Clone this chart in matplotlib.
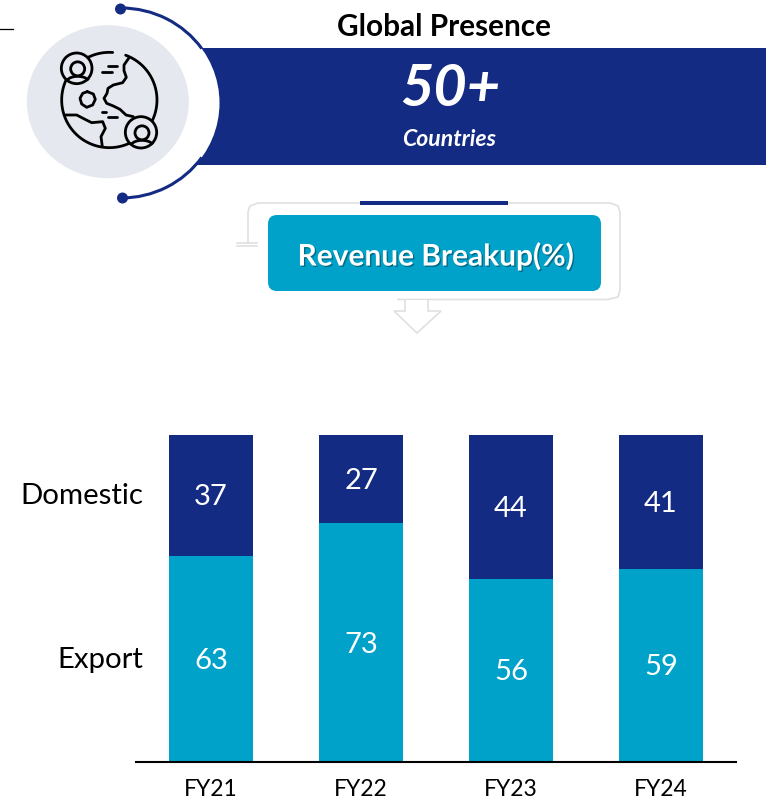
import numpy as np
import matplotlib
matplotlib.use("Agg")
import matplotlib.pyplot as plt
import matplotlib.patheffects as pe
from matplotlib.patches import Circle, Ellipse, Rectangle, FancyBboxPatch, Arc, Polygon

plt.rcParams['font.family'] = ['Lato', 'DejaVu Sans']

years = ['FY21', 'FY22', 'FY23', 'FY24']
export = [63, 73, 56, 59]
domestic = [37, 27, 44, 41]
series_names = ['Domestic', 'Export']

NAVY = '#132B82'
TEAL = '#00A2CA'
GREY = '#E5E8EF'
LINE = '#E0E0E0'

fig = plt.figure(figsize=(7.66, 8), dpi=100)

# chart
ax = fig.add_axes([136 / 766, 38 / 800, 600 / 766, 327 / 800])
x = np.arange(len(years))
ax.bar(x, export, width=0.555, color=TEAL)
ax.bar(x, domestic, width=0.555, bottom=export, color=NAVY)
for i in x:
    ax.text(i, export[i] / 2 - 0.6, str(export[i]), color='white', fontsize=21, ha='center', va='center')
    ax.text(i, export[i] + domestic[i] / 2 - 0.6, str(domestic[i]), color='white', fontsize=21, ha='center', va='center')
ax.set_xlim(-0.5, 3.5)
ax.set_ylim(0, 100)
ax.set_xticks(x, years, fontsize=16.5)
ax.tick_params(axis='x', length=0, pad=12)
ax.set_yticks([])
for s in ['top', 'left', 'right']:
    ax.spines[s].set_visible(False)
ax.spines['bottom'].set_linewidth(1.5)
ax.patch.set_alpha(0)

# everything else in pixel coordinates of the picture
bg = fig.add_axes([0, 0, 1, 1], zorder=-1)
bg.set_xlim(0, 766)
bg.set_ylim(800, 0)
bg.axis('off')

bg.plot([0, 13], [29, 29], color='black', lw=0.9)

# banner with the white disc and the navy arc cut in it
bg.add_patch(Rectangle((190, 48), 576, 117, color=NAVY, lw=0, zorder=1))
bg.add_patch(Ellipse((121, 103), 197, 190, color='white', lw=0, zorder=2))
bg.add_patch(Arc((121, 103), 197, 190, theta1=-90, theta2=-34, color=NAVY, lw=2.2, zorder=3))
bg.add_patch(Arc((121, 103), 197, 190, theta1=34, theta2=90, color=NAVY, lw=2.2, zorder=3))
bg.add_patch(Circle((120.5, 9), 5.5, color=NAVY, lw=0, zorder=4))
bg.add_patch(Circle((122.5, 198), 5.5, color=NAVY, lw=0, zorder=4))
bg.add_patch(Ellipse((107.8, 101.7), 162, 153, color=GREY, lw=0, zorder=4))


def icon_line(pts, closed=False):
    p = np.array(pts, dtype=float) / 3
    if closed:
        p = np.vstack([p, p[0]])
    bg.plot(p[:, 0], p[:, 1], color='black', lw=2, zorder=5,
            solid_capstyle='round', solid_joinstyle='round')


t = np.radians(np.arange(-70, 278, 4))
icon_line(np.c_[328 + 143 * np.cos(t), 300 + 143 * np.sin(t)])
for cx, cy, r in [(230, 205, 46), (423, 397, 47)]:
    bg.add_patch(Circle((cx / 3, cy / 3), r / 3, facecolor=GREY, edgecolor='black', lw=2, zorder=6))
    bg.add_patch(Circle((cx / 3 + 1, cy / 3 + 0.5), 21 / 3, facecolor='none', edgecolor='black', lw=2, zorder=7))
    bg.add_patch(Arc((cx / 3 + 1, cy / 3 + 15), 24, 14, theta1=195, theta2=345, color='black', lw=2, zorder=7))
icon_line([(388, 172), (372, 195), (372, 212), (379, 232), (368, 248), (340, 255), (324, 265),
           (321, 280), (312, 295), (320, 310), (340, 318), (360, 328), (378, 345), (400, 350)])
icon_line([(197, 345), (230, 345), (255, 358), (275, 368), (308, 365), (316, 385), (303, 410), (307, 440)])
icon_line([(262, 275), (280, 282), (286, 298), (278, 315), (260, 322), (245, 312), (240, 295), (248, 280)], closed=True)
icon_line([(325, 198), (350, 198)])
icon_line([(305, 216), (335, 216)])
icon_line([(305, 337), (318, 337)])
icon_line([(325, 352), (350, 352)])

bg.text(444, 27, 'Global Presence', fontsize=21.4, fontweight='bold', color='black', ha='center', va='center')
bg.text(450, 90, '50+', fontsize=41.5, fontweight='bold', fontstyle='italic', color='white', ha='center', va='center', zorder=3)
bg.text(449, 139, 'Countries', fontsize=16.6, fontweight='bold', fontstyle='italic', color='white', ha='center', va='center', zorder=3)

# grey connector behind the button
bg.plot([248, 248, 250, 258, 610, 618, 620, 620, 618, 608, 398],
        [243, 212, 206, 203, 203, 206, 212, 290, 297, 299.5, 299.5], color=LINE, lw=1.2, zorder=1)
bg.plot([237, 257], [243, 243], color=LINE, lw=1.2, zorder=1)
bg.plot([237, 257], [246, 246], color=LINE, lw=1.2, zorder=1)
bg.add_patch(Polygon([(405, 300), (405, 311), (394, 311), (417, 333), (441, 311), (428, 311), (428, 300)],
                     closed=False, facecolor='white', edgecolor=LINE, lw=1.2, zorder=1))
bg.add_patch(Rectangle((360, 201), 148, 4, color=NAVY, lw=0, zorder=2))
bg.add_patch(FancyBboxPatch((276, 223), 317, 60, boxstyle='round,pad=8,rounding_size=9',
                            facecolor=TEAL, edgecolor='none', zorder=2))
bg.text(436, 256, 'Revenue Breakup(%)', fontsize=21.5, fontweight='bold', color='white', ha='center', va='center',
        zorder=3, path_effects=[pe.withSimplePatchShadow(offset=(1, -1), shadow_rgbFace='#005F78', alpha=0.8)])

# series names left of the bars
bg.text(143, 496, series_names[0], fontsize=21.2, color='black', ha='right', va='center')
bg.text(143, 660, series_names[1], fontsize=21.2, color='black', ha='right', va='center')

fig.savefig('out.png', dpi=100)
